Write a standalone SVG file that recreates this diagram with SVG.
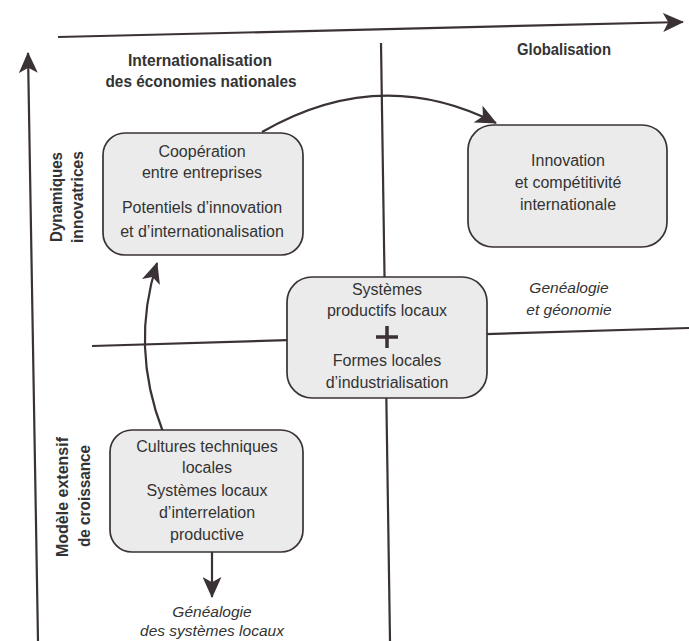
<svg xmlns="http://www.w3.org/2000/svg" width="689" height="641" viewBox="0 0 689 641">
<defs>
<marker id="ah" viewBox="0 0 20 18" refX="19" refY="9" markerWidth="21" markerHeight="19" markerUnits="userSpaceOnUse" orient="auto">
<path d="M0,0 L20,9 L0,18 L5,9 z" fill="#3a3236"/>
</marker>
</defs>
<style>
.ln{stroke:#3a3236;stroke-width:2.2;fill:none}
.box{fill:#ebebeb;stroke:#3a3236;stroke-width:1.7}
.t{font-family:"Liberation Sans",Arial,sans-serif;font-size:16px;fill:#333;text-anchor:middle}
.b{font-family:"Liberation Sans",Arial,sans-serif;font-size:17px;font-weight:bold;fill:#333;text-anchor:middle}
.i{font-family:"Liberation Sans",Arial,sans-serif;font-size:15.5px;font-style:italic;fill:#333;text-anchor:middle}
</style>
<rect width="689" height="641" fill="#fff"/>
<g id="axes">
<path class="ln" d="M58,37 L683,22" marker-end="url(#ah)"/>
<path class="ln" d="M38,641 L28,53" marker-end="url(#ah)"/>
<path class="ln" d="M381,43 L390,641"/>
<path class="ln" d="M92,346 L689,328"/>
</g>
<g id="labels">
<text class="b" x="200" y="66" textLength="144" lengthAdjust="spacingAndGlyphs">Internationalisation</text>
<text class="b" x="201" y="87" textLength="191" lengthAdjust="spacingAndGlyphs">des économies nationales</text>
<text class="b" x="564" y="55" textLength="94" lengthAdjust="spacingAndGlyphs">Globalisation</text>
<text class="b" transform="translate(62,197) rotate(-90)" textLength="90" lengthAdjust="spacingAndGlyphs" style="font-size:16px">Dynamiques</text>
<text class="b" transform="translate(83,197) rotate(-90)" textLength="92" lengthAdjust="spacingAndGlyphs" style="font-size:16px">innovatrices</text>
<text class="b" transform="translate(68,497) rotate(-90)" textLength="120" lengthAdjust="spacingAndGlyphs" style="font-size:16px">Modèle extensif</text>
<text class="b" transform="translate(90,496) rotate(-90)" textLength="102" lengthAdjust="spacingAndGlyphs" style="font-size:16px">de croissance</text>
<text class="i" x="569" y="293">Genéalogie</text>
<text class="i" x="569" y="315">et géonomie</text>
<text class="i" x="212" y="617">Généalogie</text>
<text class="i" x="212" y="636">des systèmes locaux</text>
</g>
<g id="connectors">
<path class="ln" d="M262,132 Q380,64 496,123" stroke-width="2.6" marker-end="url(#ah)"/>
<path class="ln" d="M163,432 Q130,347 157,263" stroke-width="2.6" marker-end="url(#ah)"/>
<path class="ln" d="M212,552 L212,597" stroke-width="2.6" marker-end="url(#ah)"/>
</g>
<g id="n-cooperation">
<rect class="box" x="103" y="133" width="200" height="122" rx="22"/>
<text class="t" x="202" y="157">Coopération</text>
<text class="t" x="202" y="178">entre entreprises</text>
<text class="t" x="202" y="213">Potentiels d’innovation</text>
<text class="t" x="202" y="237">et d’internationalisation</text>
</g>
<g id="n-innovation">
<rect class="box" x="468" y="125" width="199" height="122" rx="25"/>
<text class="t" x="568" y="166">Innovation</text>
<text class="t" x="568" y="188">et compétitivité</text>
<text class="t" x="568" y="210">internationale</text>
</g>
<g id="n-systemes">
<rect class="box" x="287" y="277" width="200" height="121" rx="25"/>
<text class="t" x="387" y="295">Systèmes</text>
<text class="t" x="387" y="316">productifs locaux</text>
<path d="M376,337 H398 M387,326 V348" stroke="#3a3236" stroke-width="3.5"/>
<text class="t" x="387" y="366">Formes locales</text>
<text class="t" x="387" y="388">d’industrialisation</text>
</g>
<g id="n-cultures">
<rect class="box" x="110" y="430" width="193" height="122" rx="22"/>
<text class="t" x="207" y="452">Cultures techniques</text>
<text class="t" x="207" y="473">locales</text>
<text class="t" x="207" y="496">Systèmes locaux</text>
<text class="t" x="207" y="518">d’interrelation</text>
<text class="t" x="207" y="540">productive</text>
</g>
</svg>
